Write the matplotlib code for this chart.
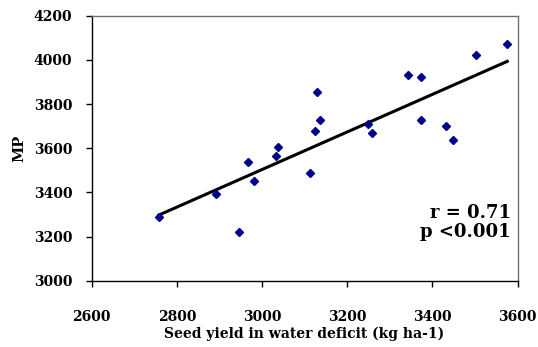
#!/usr/bin/env python3
"""Scatter of MP against seed yield in water deficit, with a linear fit."""

import numpy as np
import matplotlib

matplotlib.use("Agg")
import matplotlib.pyplot as plt

# seed yield in water deficit (kg ha-1)
seed_yield = [2758, 2891, 2946, 2967, 2982, 3034, 3037, 3112, 3124, 3128,
              3137, 3248, 3258, 3343, 3374, 3374, 3433, 3449, 3503, 3576]
# MP
mp = [3288, 3393, 3219, 3539, 3451, 3563, 3604, 3486, 3679, 3855,
      3726, 3708, 3667, 3930, 3923, 3726, 3702, 3638, 4024, 4070]

x_ticks = [2600, 2800, 3000, 3200, 3400, 3600]
y_ticks = [3000, 3200, 3400, 3600, 3800, 4000, 4200]
stats_r = "r = 0.71"
stats_p = "p <0.001"


def main() -> int:
    plt.rcParams["font.family"] = ["DejaVu Serif"]
    plt.rcParams["font.weight"] = "bold"

    fig = plt.figure(figsize=(5.38, 3.47), dpi=100)
    ax = fig.add_axes([0.1704, 0.1911, 0.7915, 0.7637])

    x = np.array(seed_yield, dtype=float)
    y = np.array(mp, dtype=float)
    slope, intercept = np.polyfit(x, y, 1)
    xs = np.array([x.min(), x.max()])
    ax.plot(xs, slope * xs + intercept, color="black", lw=2.2, zorder=2)
    ax.plot(x, y, ls="none", marker="D", ms=4.2, color="#00008b", zorder=3)

    ax.set_xlim(2600, 3600)
    ax.set_ylim(3000, 4200)
    ax.set_xticks(x_ticks)
    ax.set_yticks(y_ticks)
    ax.tick_params(axis="x", direction="out", length=4, width=1, pad=17, labelsize=10)
    ax.tick_params(axis="y", direction="out", length=4, width=1, pad=10, labelsize=10)

    for side in ("top", "right"):
        ax.spines[side].set_color("#707070")
        ax.spines[side].set_linewidth(1.0)
    for side in ("left", "bottom"):
        ax.spines[side].set_color("black")
        ax.spines[side].set_linewidth(1.0)

    ax.set_xlabel("Seed yield in water deficit (kg ha-1)", fontsize=10, fontweight="bold", labelpad=2)
    ax.set_ylabel("MP", fontsize=10.5, fontweight="bold", labelpad=5)

    ax.text(0.984, 0.235, stats_r, transform=ax.transAxes, ha="right", va="baseline",
            fontsize=13, fontweight="bold")
    ax.text(0.984, 0.166, stats_p, transform=ax.transAxes, ha="right", va="baseline",
            fontsize=13, fontweight="bold")

    fig.savefig("out.png", dpi=100, facecolor="white")
    return 0


if __name__ == "__main__":
    raise SystemExit(main())
